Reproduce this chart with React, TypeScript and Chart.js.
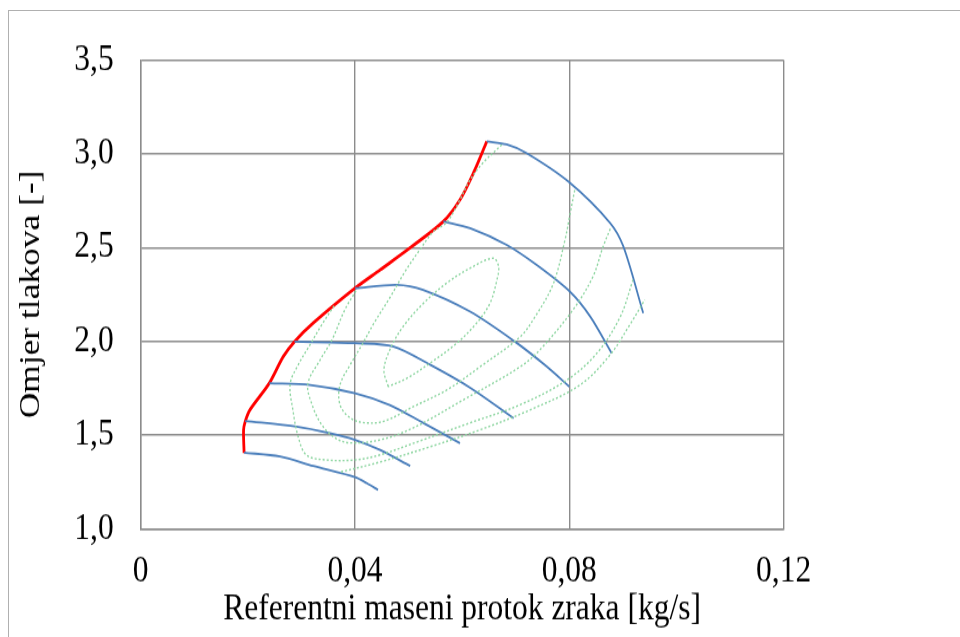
import React, { useEffect, useRef } from "react";
import { Chart, registerables } from "chart.js";

Chart.register(...registerables);

// Axis ticks
const xTicks = [0, 0.04, 0.08, 0.12];
const yTicks = [1.0, 1.5, 2.0, 2.5, 3.0, 3.5];

// Surge line (red)
const surgeX = [0.0193, 0.0192, 0.0195, 0.0204, 0.0240, 0.0266, 0.0287, 0.0322, 0.0400, 0.0447, 0.0506, 0.0565, 0.0596, 0.0621, 0.0646];
const surgeY = [1.403, 1.527, 1.571, 1.634, 1.776, 1.918, 1.998, 2.097, 2.283, 2.381, 2.505, 2.639, 2.755, 2.897, 3.066];

// Speed lines (blue)
const speed1X = [0.0193, 0.0260, 0.0322, 0.0400, 0.0422, 0.0443];
const speed1Y = [1.406, 1.385, 1.335, 1.275, 1.243, 1.207];
const speed2X = [0.0195, 0.0291, 0.0353, 0.0400, 0.0447, 0.0503];
const speed2Y = [1.575, 1.545, 1.510, 1.474, 1.420, 1.335];
const speed3X = [0.0240, 0.0316, 0.0400, 0.0465, 0.0528, 0.0596];
const speed3Y = [1.776, 1.767, 1.723, 1.660, 1.563, 1.456];
const speed4X = [0.0287, 0.0353, 0.0400, 0.0472, 0.0540, 0.0615, 0.0696];
const speed4Y = [1.998, 1.993, 1.990, 1.972, 1.875, 1.752, 1.590];
const speed5X = [0.0400, 0.0478, 0.0527, 0.0615, 0.0700, 0.0758, 0.0800];
const speed5Y = [2.283, 2.301, 2.274, 2.158, 1.995, 1.865, 1.758];
const speed6X = [0.0565, 0.0615, 0.0683, 0.0740, 0.0801, 0.0839, 0.0879];
const speed6Y = [2.639, 2.603, 2.514, 2.405, 2.265, 2.132, 1.936];
const speed7X = [0.0646, 0.0683, 0.0720, 0.0800, 0.0876, 0.0901, 0.0938];
const speed7Y = [3.066, 3.050, 3.004, 2.848, 2.632, 2.505, 2.150];

// Efficiency contours (green dotted)
const eff1X = [0.0462, 0.0454, 0.0465, 0.0490, 0.0528, 0.0571, 0.0615, 0.0658, 0.0668, 0.0665, 0.0652, 0.0627, 0.0590, 0.0540, 0.0497, 0.0462];
const eff1Y = [1.758, 1.847, 1.954, 2.079, 2.203, 2.310, 2.390, 2.443, 2.399, 2.328, 2.203, 2.097, 1.990, 1.883, 1.803, 1.758];
const eff2X = [0.0674, 0.0639, 0.0615, 0.0596, 0.0572, 0.0546, 0.0521, 0.0493, 0.0465, 0.0437, 0.0413, 0.0391, 0.0372, 0.0372, 0.0391, 0.0419, 0.0456, 0.0508, 0.0572, 0.0633, 0.0708, 0.0736, 0.0770, 0.0792, 0.0801, 0.0811];
const eff2Y = [3.048, 2.952, 2.861, 2.755, 2.637, 2.584, 2.488, 2.370, 2.232, 2.104, 1.981, 1.874, 1.767, 1.661, 1.591, 1.565, 1.575, 1.650, 1.741, 1.863, 2.023, 2.130, 2.306, 2.541, 2.674, 2.819];
const eff3X = [0.0402, 0.0381, 0.0357, 0.0335, 0.0312, 0.0320, 0.0338, 0.0363, 0.0391, 0.0447, 0.0508, 0.0602, 0.0708, 0.0745, 0.0807, 0.0844, 0.0863, 0.0878];
const eff3Y = [2.269, 2.168, 2.007, 1.901, 1.773, 1.661, 1.554, 1.484, 1.458, 1.474, 1.537, 1.687, 1.863, 1.954, 2.168, 2.344, 2.504, 2.610];
const eff4X = [0.0361, 0.0338, 0.0316, 0.0294, 0.0279, 0.0284, 0.0294, 0.0309, 0.0346, 0.0400, 0.0447, 0.0516, 0.0615, 0.0708, 0.0796, 0.0852, 0.0895, 0.0919];
const eff4Y = [2.189, 2.088, 1.981, 1.874, 1.773, 1.634, 1.490, 1.394, 1.367, 1.367, 1.394, 1.463, 1.565, 1.661, 1.794, 1.938, 2.130, 2.328];
const eff5X = [0.0374, 0.0447, 0.0540, 0.0633, 0.0727, 0.0820, 0.0876, 0.0913, 0.0941];
const eff5Y = [1.303, 1.356, 1.437, 1.527, 1.634, 1.767, 1.927, 2.088, 2.221];

const pts = (xs: number[], ys: number[]) => xs.map((x, i) => ({ x, y: ys[i] }));

const BLUE = "#4a7ebb";
const GREEN = "#8fd6a2";
const RED = "#ff0000";
const FONT = "'Liberation Serif', 'Times New Roman', serif";

// The picture is drawn on a shorter canvas and stretched vertically.
const CANVAS_W = 950;
const CANVAS_H = 530;
const CSS_H = 626;

const fmt = (v: number, d: number) => (v === 0 ? "0" : v.toFixed(d).replace(".", ","));

export default function App() {
  const ref = useRef<HTMLCanvasElement>(null);

  useEffect(() => {
    const effSets = [
      [eff1X, eff1Y],
      [eff2X, eff2Y],
      [eff3X, eff3Y],
      [eff4X, eff4Y],
      [eff5X, eff5Y],
    ].map(([xs, ys]) => ({
      data: pts(xs, ys),
      showLine: true,
      borderColor: GREEN,
      borderWidth: 1.4,
      borderDash: [2, 2],
      pointRadius: 0,
      tension: 0.35,
    }));
    const speedSets = [
      [speed1X, speed1Y],
      [speed2X, speed2Y],
      [speed3X, speed3Y],
      [speed4X, speed4Y],
      [speed5X, speed5Y],
      [speed6X, speed6Y],
      [speed7X, speed7Y],
    ].map(([xs, ys]) => ({
      data: pts(xs, ys),
      showLine: true,
      borderColor: BLUE,
      borderWidth: 1.8,
      pointRadius: 0,
      tension: 0.3,
    }));
    const surgeSet = {
      data: pts(surgeX, surgeY),
      showLine: true,
      borderColor: RED,
      borderWidth: 2.8,
      pointRadius: 0,
      tension: 0.3,
    };

    const chart = new Chart(ref.current!, {
      type: "scatter",
      data: { datasets: [...effSets, ...speedSets, surgeSet] as any },
      options: {
        animation: false,
        responsive: false,
        devicePixelRatio: 1,
        layout: { padding: { top: 41.5, right: 175.4, left: 0, bottom: 0 } },
        plugins: { legend: { display: false }, tooltip: { enabled: false } },
        scales: {
          x: {
            type: "linear",
            min: 0,
            max: 0.12,
            afterFit: (s: any) => {
              s.height = 91.7;
              s.paddingLeft = 0;
              s.paddingRight = 0;
            },
            afterBuildTicks: (s: any) => {
              s.ticks = xTicks.map((v) => ({ value: v }));
            },
            grid: { color: "#8c8c8c", lineWidth: 1.4, drawTicks: false },
            border: { color: "#8c8c8c", width: 1.4 },
            ticks: {
              padding: 17.5,
              color: "#000",
              font: { family: FONT, size: 31.5 },
              callback: (v: any) => fmt(Number(v), 2),
            },
            title: {
              display: true,
              text: "Referentni maseni protok zraka [kg/s]",
              color: "#000",
              font: { family: FONT, size: 31.5 },
              padding: { bottom: 4, top: 0 },
            },
          },
          y: {
            type: "linear",
            min: 1.0,
            max: 3.5,
            afterFit: (s: any) => {
              s.width = 131.7;
              s.paddingTop = 0;
              s.paddingBottom = 0;
            },
            afterBuildTicks: (s: any) => {
              s.ticks = yTicks.map((v) => ({ value: v }));
            },
            grid: { color: "#8c8c8c", lineWidth: 1.4, drawTicks: false },
            border: { color: "#8c8c8c", width: 1.4 },
            ticks: {
              padding: 27,
              color: "#000",
              font: { family: FONT, size: 31.5 },
              callback: (v: any) => Number(v).toFixed(1).replace(".", ","),
            },
            title: {
              display: true,
              text: "Omjer tlakova [-]",
              color: "#000",
              font: { family: FONT, size: 30 },
              padding: { top: 4, bottom: 0 },
            },
          },
        },
      },
    });
    return () => chart.destroy();
  }, []);

  return (
    <div
      style={{
        position: "absolute",
        left: 8,
        top: 10,
        width: 960,
        height: 640,
        border: "1px solid #b0b0b0",
        background: "#fff",
      }}
    >
      <canvas
        ref={ref}
        width={CANVAS_W}
        height={CANVAS_H}
        style={{ display: "block", width: CANVAS_W + "px", height: CSS_H + "px" }}
      />
    </div>
  );
}
